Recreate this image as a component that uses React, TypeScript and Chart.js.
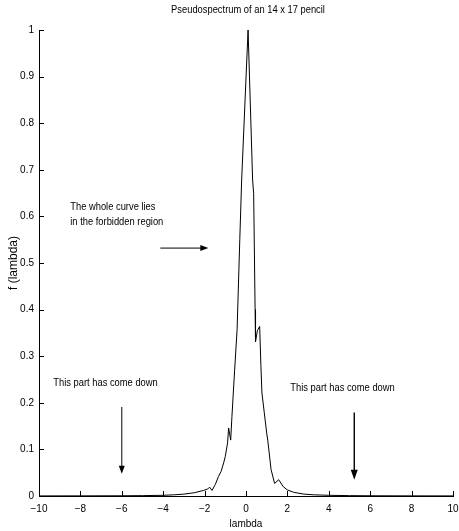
import React, { useEffect, useRef } from "react";
import { Chart, registerables } from "chart.js";

Chart.register(...registerables);

const titleText = "Pseudospectrum of an 14 x 17 pencil";
const xAxisLabel = "lambda";
const yAxisLabel = "f (lambda)";

const lambdaValues = [
  -10, -8, -6, -5, -4, -3.5, -3, -2.5, -2.05, -1.85, -1.76, -1.64, -1.48, -1.33, -1.2, -1.08, -1.0,
  -0.89, -0.84, -0.74, -0.68, -0.55, -0.43, -0.3, -0.21, 0.1, 0.32, 0.37, 0.44, 0.46, 0.55, 0.66,
  0.72, 0.77, 0.88, 1.0, 1.05, 1.21, 1.38, 1.58, 1.8, 2.0, 2.3, 2.8, 3.3, 4, 5, 6, 8, 10,
];
const fValues = [
  0.0002, 0.0003, 0.0005, 0.0008, 0.0015, 0.0025, 0.004, 0.007, 0.012, 0.015, 0.019, 0.012, 0.025,
  0.042, 0.053, 0.071, 0.085, 0.114, 0.146, 0.12, 0.17, 0.27, 0.357, 0.55, 0.678, 1.0, 0.678, 0.649,
  0.4, 0.331, 0.355, 0.364, 0.28, 0.221, 0.18, 0.135, 0.12, 0.057, 0.027, 0.035, 0.02, 0.013, 0.008,
  0.004, 0.0025, 0.0015, 0.0008, 0.0005, 0.0003, 0.0002,
];

const xTickStep = 2;
const yTickStep = 0.1;

const noteTexts = ["The whole curve lies", "in the forbidden region", "This part has come down", "This part has come down"];
const noteX = [-8.49, -8.49, -9.31, 2.14];
const noteY = [0.62, 0.588, 0.243, 0.232];

const arrowX0 = [-4.14, -6.0, 5.23];
const arrowY0 = [0.532, 0.191, 0.179];
const arrowX1 = [-1.82, -6.0, 5.23];
const arrowY1 = [0.532, 0.048, 0.035];

const FONT = "'Liberation Sans', Arial, sans-serif";
const CONDENSE = 0.85;

const fmtMinus = (v: number, digits: number) => {
  const s = Number(v.toFixed(digits)).toString();
  return s.replace("-", "\u2212");
};

const innerTicks = {
  id: "innerTicks",
  afterDraw(chart: any) {
    const ctx = chart.ctx;
    const xs = chart.scales.x;
    const ys = chart.scales.y;
    const area = chart.chartArea;
    ctx.save();
    ctx.strokeStyle = "#000";
    ctx.lineWidth = 1;
    ctx.beginPath();
    xs.ticks.forEach((t: any) => {
      const px = Math.round(xs.getPixelForValue(t.value)) + 0.5;
      ctx.moveTo(px, area.bottom);
      ctx.lineTo(px, area.bottom - 5);
    });
    ys.ticks.forEach((t: any) => {
      const py = Math.round(ys.getPixelForValue(t.value)) + 0.5;
      ctx.moveTo(area.left, py);
      ctx.lineTo(area.left + 5, py);
    });
    ctx.stroke();
    ctx.restore();
  },
};

const drawCondensed = (ctx: any, text: string, x: number, y: number, align: string) => {
  ctx.save();
  ctx.translate(x, y);
  ctx.scale(CONDENSE, 1);
  ctx.textAlign = align;
  ctx.textBaseline = "middle";
  ctx.fillText(text, 0, 0);
  ctx.restore();
};

const notes = {
  id: "notes",
  afterDraw(chart: any) {
    const ctx = chart.ctx;
    const xs = chart.scales.x;
    const ys = chart.scales.y;
    const area = chart.chartArea;
    ctx.save();
    ctx.fillStyle = "#000";
    ctx.font = `11px ${FONT}`;
    drawCondensed(ctx, titleText, (area.left + area.right) / 2 + 2, 10, "center");
    noteTexts.forEach((t, i) => {
      drawCondensed(ctx, t, xs.getPixelForValue(noteX[i]), ys.getPixelForValue(noteY[i]), "left");
    });
    arrowX0.forEach((_, i) => {
      const x0 = xs.getPixelForValue(arrowX0[i]);
      const y0 = ys.getPixelForValue(arrowY0[i]);
      const x1 = xs.getPixelForValue(arrowX1[i]);
      const y1 = ys.getPixelForValue(arrowY1[i]);
      const ang = Math.atan2(y1 - y0, x1 - x0);
      const len = i === 2 ? 10 : 8;
      const half = i === 2 ? 3.5 : 3;
      ctx.strokeStyle = "#000";
      ctx.lineWidth = i === 2 ? 1.4 : 1;
      ctx.beginPath();
      ctx.moveTo(x0, y0);
      ctx.lineTo(x1 - Math.cos(ang) * len * 0.8, y1 - Math.sin(ang) * len * 0.8);
      ctx.stroke();
      ctx.beginPath();
      ctx.moveTo(x1, y1);
      ctx.lineTo(x1 - Math.cos(ang) * len - Math.sin(ang) * half, y1 - Math.sin(ang) * len + Math.cos(ang) * half);
      ctx.lineTo(x1 - Math.cos(ang) * len + Math.sin(ang) * half, y1 - Math.sin(ang) * len - Math.cos(ang) * half);
      ctx.closePath();
      ctx.fill();
    });
    ctx.restore();
  },
};

export default function App() {
  const ref = useRef<HTMLCanvasElement | null>(null);
  useEffect(() => {
    if (!ref.current) return;
    const data = lambdaValues.map((x, i) => ({ x, y: fValues[i] }));
    const chart = new Chart(ref.current, {
      type: "line",
      data: {
        datasets: [
          {
            data,
            borderColor: "#000",
            borderWidth: 1,
            pointRadius: 0,
            tension: 0,
            fill: false,
          },
        ],
      },
      options: {
        responsive: false,
        animation: false,
        events: [],
        layout: { padding: { top: 30, right: 6, left: 0, bottom: 0 } },
        plugins: {
          legend: { display: false },
          tooltip: { enabled: false },
          title: { display: false },
        },
        scales: {
          x: {
            type: "linear",
            position: "bottom",
            min: -10,
            max: 10,
            grid: { display: false, drawTicks: false },
            border: { display: true, color: "#000", width: 1 },
            ticks: {
              stepSize: xTickStep,
              color: "#000",
              padding: 7,
              maxRotation: 0,
              autoSkip: false,
              font: { family: FONT, size: 10 },
              callback: (v: any) => fmtMinus(Number(v), 0),
            },
            title: {
              display: true,
              text: xAxisLabel,
              color: "#000",
              font: { family: FONT, size: 10 },
              padding: { top: 0, bottom: 1 },
            },
            afterFit: (s: any) => {
              s.height = 35;
              s.paddingLeft = 0;
              s.paddingRight = 0;
            },
          },
          y: {
            type: "linear",
            min: 0,
            max: 1,
            grid: { display: false, drawTicks: false },
            border: { display: true, color: "#000", width: 1 },
            ticks: {
              stepSize: yTickStep,
              color: "#000",
              padding: 5,
              autoSkip: false,
              font: { family: FONT, size: 10 },
              callback: (v: any) => fmtMinus(Number(v), 1),
            },
            title: {
              display: true,
              text: yAxisLabel,
              color: "#000",
              font: { family: FONT, size: 12 },
              padding: { top: 6, bottom: 0 },
            },
            afterFit: (s: any) => {
              s.width = 39;
            },
          },
        },
      },
      plugins: [innerTicks, notes],
    });
    return () => chart.destroy();
  }, []);
  return (
    <div style={{ position: "absolute", left: 0, top: 0, width: 459, height: 531, background: "#fff" }}>
      <canvas ref={ref} width={459} height={531} style={{ display: "block" }} />
    </div>
  );
}
